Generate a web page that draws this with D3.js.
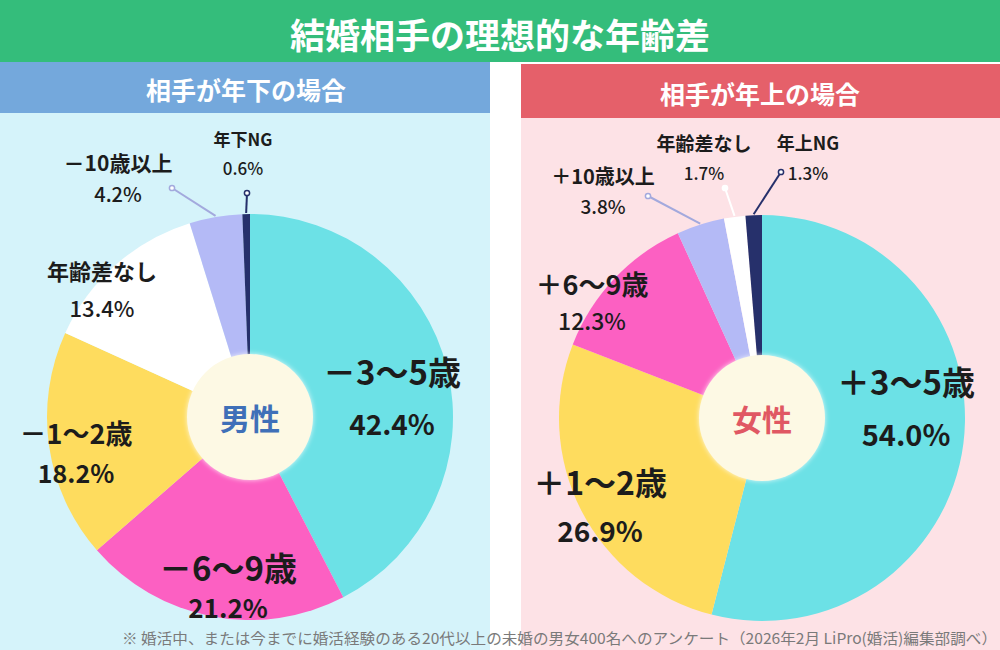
<!DOCTYPE html>
<html><head><meta charset="utf-8">
<script src="https://cdn.jsdelivr.net/npm/d3@7/dist/d3.min.js"></script>
<style>html,body{margin:0;padding:0;background:#fff;}svg{display:block;}</style>
</head><body>
<script>
// ---- data ----
const title = "結婚相手の理想的な年齢差";
const leftHeader = "相手が年下の場合";
const rightHeader = "相手が年上の場合";
const leftCenter = "男性";
const rightCenter = "女性";
const leftCategories = ["－3～5歳", "－6～9歳", "－1～2歳", "年齢差なし", "－10歳以上", "年下NG"];
const leftValues = [42.4, 21.2, 18.2, 13.4, 4.2, 0.6];
const rightCategories = ["＋3～5歳", "＋1～2歳", "＋6～9歳", "＋10歳以上", "年齢差なし", "年上NG"];
const rightValues = [54.0, 26.9, 12.3, 3.8, 1.7, 1.3];
const footnote = "※ 婚活中、または今までに婚活経験のある20代以上の未婚の男女400名へのアンケート（2026年2月 LiPro(婚活)編集部調べ）";

// ---- styles / layout ----
const W = 1000, H = 650;
const FONT = "'Noto Sans CJK JP', 'Noto Sans', sans-serif";
const leftColors = ["#6ce1e6", "#fc60c2", "#fedc5e", "#ffffff", "#b4baf6", "#26306b"];
const rightColors = ["#6ce1e6", "#fedc5e", "#fc60c2", "#b4baf6", "#ffffff", "#26306b"];
const leaderColors = { "－10歳以上": "#a3a9dd", "年下NG": "#26306b", "＋10歳以上": "#a3a9dd", "年齢差なし": "#ffffff", "年上NG": "#26306b" };

const leftLayout = [
  { dx: 142, ny: -46, ns: 33, py: 6, ps: 28 },
  { dx: -22, ny: 150, ns: 33, py: 189, ps: 26 },
  { dx: -174, ny: 15, ns: 27, py: 55, ps: 25 },
  { dx: -148, ny: -147, ns: 22, py: -110, ps: 22 },
  { dx: -132, ny: -255, ns: 21, py: -224, ps: 20, leader: true, lx: -78, ly: -229 },
  { dx: -7, ny: -279, ns: 17, py: -250, ps: 17, leader: true, lx: -3, ly: -224 }
];
const rightLayout = [
  { dx: 144, ny: -37, ns: 33, py: 15, ps: 29 },
  { dx: -162, ny: 63, ns: 32, py: 112, ps: 28 },
  { dx: -170, ny: -135, ns: 27, py: -98, ps: 23 },
  { dx: -159, ny: -243, ns: 20, py: -213, ps: 19, leader: true, lx: -114, ly: -222 },
  { dx: -58, ny: -276, ns: 19, py: -246, ps: 17, leader: true, lx: -37, ly: -230 },
  { dx: 46, ny: -276, ns: 18, py: -246, ps: 17, leader: true, lx: 19, ly: -246 }
];

const svg = d3.select("body").append("svg").attr("width", W).attr("height", H);
const defs = svg.append("defs");
const glow = defs.append("filter").attr("id", "glow").attr("x", "-30%").attr("y", "-30%").attr("width", "160%").attr("height", "160%");
glow.append("feGaussianBlur").attr("in", "SourceAlpha").attr("stdDeviation", 2.5).attr("result", "b");
glow.append("feFlood").attr("flood-color", "#ffffff").attr("flood-opacity", 0.8);
glow.append("feComposite").attr("in2", "b").attr("operator", "in").attr("result", "g");
const m = glow.append("feMerge"); m.append("feMergeNode").attr("in", "g"); m.append("feMergeNode").attr("in", "SourceGraphic");

// backgrounds
svg.append("rect").attr("x", 0).attr("y", 0).attr("width", W).attr("height", H).attr("fill", "#ffffff");
svg.append("rect").attr("x", 0).attr("y", 112).attr("width", 490).attr("height", H - 112).attr("fill", "#d5f3fa");
svg.append("rect").attr("x", 521).attr("y", 117).attr("width", 479).attr("height", H - 117).attr("fill", "#fde2e6");
svg.append("rect").attr("x", 0).attr("y", 0).attr("width", W).attr("height", 62).attr("fill", "#34bd7b");
svg.append("rect").attr("x", 0).attr("y", 62).attr("width", 490).attr("height", 51).attr("fill", "#74a8dc");
svg.append("rect").attr("x", 521).attr("y", 64).attr("width", 479).attr("height", 54).attr("fill", "#e5606a");

svg.append("text").attr("x", 500).attr("y", 33).attr("text-anchor", "middle").attr("dominant-baseline", "central")
  .attr("font-family", FONT).attr("font-weight", 700).attr("font-size", 35).attr("fill", "#ffffff").text(title);
svg.append("text").attr("x", 246).attr("y", 89).attr("text-anchor", "middle").attr("dominant-baseline", "central")
  .attr("font-family", FONT).attr("font-weight", 700).attr("font-size", 25).attr("fill", "#ffffff").text(leftHeader);
svg.append("text").attr("x", 760).attr("y", 93).attr("text-anchor", "middle").attr("dominant-baseline", "central")
  .attr("font-family", FONT).attr("font-weight", 700).attr("font-size", 25).attr("fill", "#ffffff").text(rightHeader);

function drawPie(cx, cy, r, cats, vals, colors, layout, centerText, centerColor) {
  const g = svg.append("g").attr("transform", `translate(${cx},${cy})`);
  const pie = d3.pie().sort(null).value(d => d.v);
  const arc = d3.arc().innerRadius(0).outerRadius(r);
  const data = cats.map((c, i) => ({ c, v: vals[i], i }));
  const arcs = pie(data);
  g.selectAll("path.slice").data(arcs).join("path").attr("class", "slice")
    .attr("d", arc).attr("fill", d => colors[d.data.i]);
  arcs.forEach(d => {
    const L = layout[d.data.i];
    if (!L.leader) return;
    const mid = (d.startAngle + d.endAngle) / 2;
    const ex = Math.sin(mid) * (r + 1), ey = -Math.cos(mid) * (r + 1);
    const col = leaderColors[d.data.c];
    g.append("line").attr("x1", L.lx).attr("y1", L.ly).attr("x2", ex).attr("y2", ey)
      .attr("stroke", col).attr("stroke-width", 2);
    g.append("circle").attr("cx", L.lx).attr("cy", L.ly).attr("r", 2.6)
      .attr("fill", "#ffffff").attr("stroke", col).attr("stroke-width", 1.5);
  });
  g.append("circle").attr("r", 63).attr("fill", "#fdf9e4").attr("filter", "url(#glow)");
  g.append("text").attr("y", 0).attr("text-anchor", "middle").attr("dominant-baseline", "central")
    .attr("font-family", FONT).attr("font-weight", 700).attr("font-size", 30).attr("fill", centerColor).text(centerText);
  arcs.forEach(d => {
    const L = layout[d.data.i];
    g.append("text").attr("x", L.dx).attr("y", L.ny).attr("text-anchor", "middle").attr("dominant-baseline", "central")
      .attr("font-family", FONT).attr("font-weight", 700).attr("font-size", L.ns).attr("fill", "#1c1c1c").text(d.data.c);
    g.append("text").attr("x", L.dx).attr("y", L.py).attr("text-anchor", "middle").attr("dominant-baseline", "central")
      .attr("font-family", FONT).attr("font-weight", L.ps >= 24 ? 700 : 500).attr("font-size", L.ps).attr("fill", "#1c1c1c")
      .text(d3.format(".1f")(d.data.v) + "%");
  });
}

drawPie(250, 417, 203, leftCategories, leftValues, leftColors, leftLayout, leftCenter, "#3f70b8");
drawPie(762, 418, 203, rightCategories, rightValues, rightColors, rightLayout, rightCenter, "#e05863");

svg.append("text").attr("x", 122).attr("y", 637).attr("dominant-baseline", "central")
  .attr("font-family", FONT).attr("font-size", 15).attr("fill", "#7a7a7a")
  .attr("textLength", 875).attr("lengthAdjust", "spacingAndGlyphs").text(footnote);
</script>
</body></html>
